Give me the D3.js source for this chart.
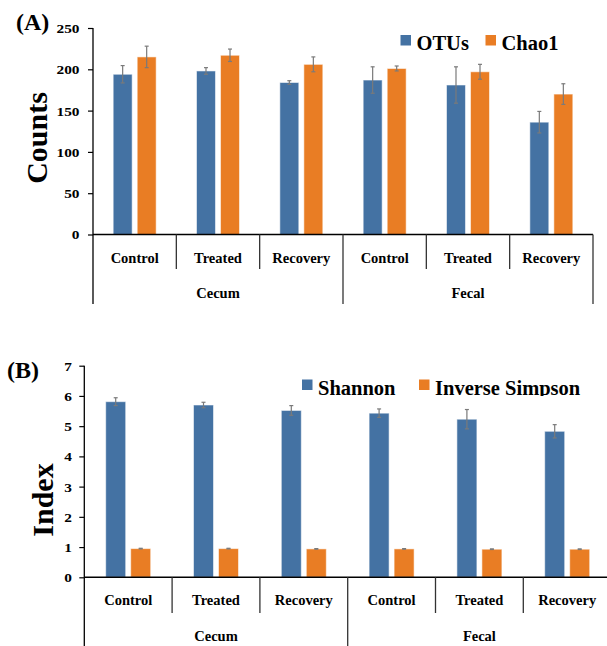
<!DOCTYPE html>
<html>
<head>
<meta charset="utf-8">
<script src="https://cdn.jsdelivr.net/npm/d3@7/dist/d3.min.js"></script>
<style>
  html, body { margin: 0; padding: 0; background: #fff; }
  svg { display: block; }
  text { font-family: "Liberation Serif", "Times New Roman", serif; font-weight: bold; fill: #000; }
</style>
</head>
<body>
<svg id="chart" width="607" height="646"></svg>
<script>
// ---- data ----
const subCategories = ["Control", "Treated", "Recovery"];
const groups = ["Cecum", "Fecal"];

// Panel A: richness
const otus      = [194, 198, 184, 187, 181, 136];
const otusErr   = [10.5, 4, 2.2, 16, 22, 13];
const chao1     = [215, 217, 206, 201, 197, 170];
const chao1Err  = [13, 7.5, 9, 3, 9, 12.5];
const countTicks = [0, 50, 100, 150, 200, 250];

// Panel B: diversity indices
const shannon       = [5.81, 5.70, 5.52, 5.43, 5.23, 4.83];
const shannonErr    = [0.13, 0.09, 0.16, 0.14, 0.32, 0.22];
const invSimpson    = [0.95, 0.95, 0.94, 0.94, 0.93, 0.93];
const invSimpsonErr = [0.01, 0.01, 0.01, 0.01, 0.01, 0.01];
const indexTicks = [0, 1, 2, 3, 4, 5, 6, 7];

const BLUE = "#4472a3";
const ORANGE = "#e97d24";

const svg = d3.select("#chart");

function drawPanel(p) {
  const g = svg.append("g");
  const cats = d3.range(groups.length * subCategories.length);

  const x = d3.scaleBand().domain(cats).range([p.x0, p.x1]).padding(0);
  const xs = d3.scaleBand().domain([0, 1]).range([0, x.bandwidth()])
    .paddingInner(p.padIn).paddingOuter(p.padOut);
  const y = d3.scaleLinear().domain([0, p.yMax]).range([p.yBase, p.yTop]);

  const series = [
    { vals: p.s1, errs: p.e1, color: BLUE },
    { vals: p.s2, errs: p.e2, color: ORANGE }
  ];

  // bars
  series.forEach((s, si) => {
    g.append("g").selectAll("rect")
      .data(cats)
      .join("rect")
      .attr("x", c => x(c) + xs(si))
      .attr("width", xs.bandwidth())
      .attr("y", c => y(s.vals[c]))
      .attr("height", c => y(0) - y(s.vals[c]))
      .attr("fill", s.color)
      .attr("stroke", "rgba(255,255,255,0.55)")
      .attr("stroke-width", 1);
  });

  // error bars
  series.forEach((s, si) => {
    const eg = g.append("g").attr("stroke", "#7a7a7a").attr("stroke-width", 1.2);
    cats.forEach(c => {
      const cx = x(c) + xs(si) + xs.bandwidth() / 2;
      const hi = y(s.vals[c] + s.errs[c]);
      const lo = y(s.vals[c] - s.errs[c]);
      eg.append("line").attr("x1", cx).attr("x2", cx).attr("y1", hi).attr("y2", lo);
      eg.append("line").attr("x1", cx - 2).attr("x2", cx + 2).attr("y1", hi).attr("y2", hi);
      eg.append("line").attr("x1", cx - 2).attr("x2", cx + 2).attr("y1", lo).attr("y2", lo);
    });
  });

  // y axis
  const yAxis = d3.axisLeft(y).tickValues(p.ticks).tickFormat(d3.format("d"))
    .tickSize(5).tickSizeOuter(0).tickPadding(0);
  const ya = g.append("g").attr("transform", `translate(${p.x0},0)`).call(yAxis);
  ya.select(".domain").remove();
  ya.selectAll(".tick line").attr("stroke", "#000").attr("stroke-width", 1.2);
  ya.selectAll(".tick text")
    .attr("x", 0).attr("dy", "0.34em")
    .attr("transform", `translate(${-p.tickGap},0) scale(1.18,1)`)
    .style("font-size", "13px")
    .style("font-family", "'Liberation Serif', serif")
    .style("font-weight", "bold")
    .attr("fill", "#000");

  // axis lines
  g.append("line").attr("x1", p.x0).attr("x2", p.x0).attr("y1", p.yTop).attr("y2", p.longEnd)
    .attr("stroke", "#000").attr("stroke-width", 1.3);
  g.append("line").attr("x1", p.x0).attr("x2", p.x1).attr("y1", p.yBase).attr("y2", p.yBase)
    .attr("stroke", "#000").attr("stroke-width", 1.5);

  // category separators (short within a group, long between groups)
  d3.range(cats.length + 1).forEach(i => {
    if (i === 0) return;
    const bx = i < cats.length ? x(i) : p.x1;
    const long = i % subCategories.length === 0;
    g.append("line").attr("x1", bx).attr("x2", bx)
      .attr("y1", p.yBase).attr("y2", long ? p.longEnd : p.shortEnd)
      .attr("stroke", "#333").attr("stroke-width", 1.3);
  });

  // category labels
  g.append("g").selectAll("text").data(cats).join("text")
    .attr("x", c => x(c) + x.bandwidth() / 2)
    .attr("y", p.catBase)
    .attr("text-anchor", "middle")
    .style("font-size", "14.5px")
    .text(c => subCategories[c % subCategories.length]);

  // group labels
  g.append("g").selectAll("text").data(groups).join("text")
    .attr("x", (d, i) => (x(i * 3) + (i * 3 + 3 < cats.length ? x(i * 3 + 3) : p.x1)) / 2)
    .attr("y", p.groupBase)
    .attr("text-anchor", "middle")
    .style("font-size", "14.5px")
    .text(d => d);

  // axis title
  g.append("text")
    .attr("transform", `translate(${p.titleX},${p.titleY}) rotate(-90)`)
    .attr("text-anchor", "middle")
    .style("font-size", "30px")
    .text(p.title);

  // panel tag
  g.append("text").attr("x", p.tagX).attr("y", p.tagY)
    .style("font-size", p.tagSize + "px").text(p.tag);

  // legend
  const lg = g.append("g");
  if (p.legendClip) {
    const id = "clip-" + p.tag.replace(/\W/g, "");
    svg.append("clipPath").attr("id", id).append("rect")
      .attr("x", 0).attr("y", 0).attr("width", 607).attr("height", p.legendClip);
    lg.attr("clip-path", `url(#${id})`);
  }
  p.legend.forEach((l, i) => {
    lg.append("rect").attr("x", l.x).attr("y", p.legendY).attr("width", 10.5).attr("height", 10.5)
      .attr("fill", series[i].color);
    lg.append("text").attr("x", l.x + 16).attr("y", p.legendBase)
      .style("font-size", "20.5px").text(l.label);
  });
}

drawPanel({
  x0: 93, x1: 593, yBase: 234.5, yTop: 28, yMax: 250,
  padIn: 0.21, padOut: 0.84,
  s1: otus, e1: otusErr, s2: chao1, e2: chao1Err,
  ticks: countTicks, tickGap: 13.5,
  shortEnd: 269, longEnd: 304,
  catBase: 263, groupBase: 298,
  title: "Counts", titleX: 47, titleY: 138,
  tag: "(A)", tagX: 16, tagY: 30, tagSize: 24,
  legend: [{ x: 400.5, label: "OTUs" }, { x: 485.5, label: "Chao1" }],
  legendY: 35, legendBase: 49.5
});

drawPanel({
  x0: 84.3, x1: 611.1, yBase: 577.3, yTop: 365.7, yMax: 7,
  padIn: 0.2, padOut: 0.856,
  s1: shannon, e1: shannonErr, s2: invSimpson, e2: invSimpsonErr,
  ticks: indexTicks, tickGap: 12.5,
  shortEnd: 613, longEnd: 646,
  catBase: 605, groupBase: 641,
  title: "Index", titleX: 52.5, titleY: 500,
  tag: "(B)", tagX: 7, tagY: 377.5, tagSize: 24,
  legend: [{ x: 302, label: "Shannon" }, { x: 419, label: "Inverse Simpson" }],
  legendY: 379.5, legendBase: 394.5, legendClip: 396
});
</script>
</body>
</html>
